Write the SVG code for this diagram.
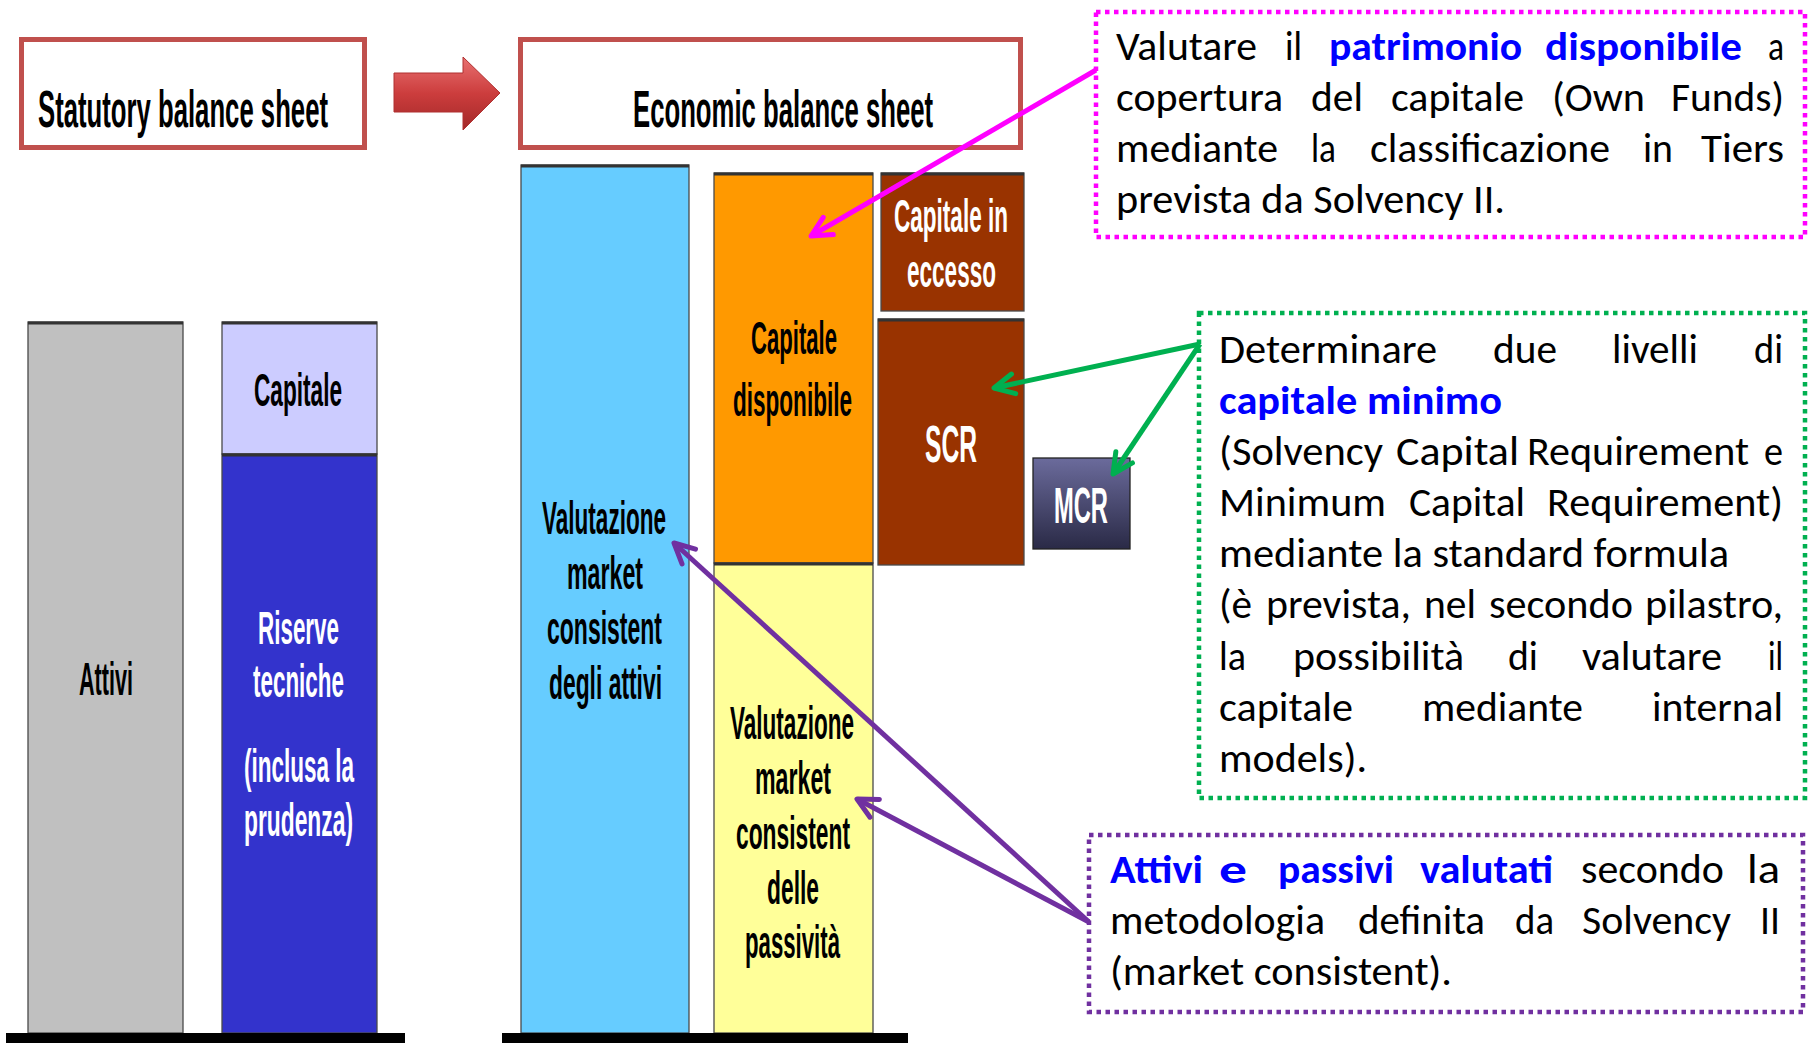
<svg xmlns="http://www.w3.org/2000/svg" width="1809" height="1044" viewBox="0 0 1809 1044">
<style>
.hdr{font-family:"Liberation Sans",Arial,sans-serif;font-weight:bold;font-size:52px;fill:#000}
.lbl{font-family:"Liberation Sans",Arial,sans-serif;font-weight:bold;font-size:46px;text-anchor:middle;fill:#000}
.w{fill:#fff}
.big{font-size:52px}
.bar{stroke:#4a4a4a;stroke-width:1.3}
.topedge{stroke:#333;stroke-width:3}
.cal{font-family:"Carlito","Lato",sans-serif;font-size:40px;fill:#000}
.em{font-weight:bold;fill:#0000FF}
.box{fill:none;stroke-width:4.5;stroke-dasharray:4.5 4.5}
.hbox{fill:#fff;stroke:#C0504D;stroke-width:5}
.con{fill:none;stroke-width:5}
</style>
<defs>
<linearGradient id="redg" x1="0" y1="0" x2="0" y2="1">
<stop offset="0" stop-color="#E87070"/>
<stop offset="0.5" stop-color="#CC3D3D"/>
<stop offset="1" stop-color="#A32828"/>
</linearGradient>
<linearGradient id="mcrg" x1="0" y1="0" x2="0" y2="1">
<stop offset="0" stop-color="#6B6B9C"/>
<stop offset="1" stop-color="#2A2A46"/>
</linearGradient>
<marker id="amag" markerUnits="userSpaceOnUse" markerWidth="40" markerHeight="40" viewBox="-30 -20 40 40" refX="0" refY="0" orient="auto" overflow="visible">
<path d="M-20,-10 L0,0 L-20,10" fill="none" stroke="#FF00FF" stroke-width="5" stroke-linecap="round" stroke-linejoin="round"/>
</marker>
<marker id="agrn" markerUnits="userSpaceOnUse" markerWidth="40" markerHeight="40" viewBox="-30 -20 40 40" refX="0" refY="0" orient="auto" overflow="visible">
<path d="M-20,-10 L0,0 L-20,10" fill="none" stroke="#00B050" stroke-width="5" stroke-linecap="round" stroke-linejoin="round"/>
</marker>
<marker id="apur" markerUnits="userSpaceOnUse" markerWidth="40" markerHeight="40" viewBox="-30 -20 40 40" refX="0" refY="0" orient="auto" overflow="visible">
<path d="M-20,-10 L0,0 L-20,10" fill="none" stroke="#7030A0" stroke-width="5" stroke-linecap="round" stroke-linejoin="round"/>
</marker>
</defs>
<rect width="1809" height="1044" fill="#fff"/>

<g id="statutory-header">
<rect class="hbox" x="21.5" y="39.5" width="343" height="108"/>
<text class="hdr" transform="translate(38,127) scale(0.4944,1)" x="0" y="0" textLength="586.6" lengthAdjust="spacingAndGlyphs">Statutory balance sheet</text>
</g>
<g id="transition-arrow">
<polygon points="394,73 463,73 463,57 500,93 463,130 463,112 394,112" fill="url(#redg)" stroke="#B03030" stroke-width="1"/>
</g>
<g id="economic-header">
<rect class="hbox" x="520.5" y="39.5" width="500" height="108"/>
<text class="hdr" transform="translate(633,127) scale(0.4943,1)" x="0" y="0" textLength="607" lengthAdjust="spacingAndGlyphs">Economic balance sheet</text>
</g>

<g id="attivi">
<rect class="bar" x="28" y="322" width="155" height="711" fill="#C0C0C0"/>
<line class="topedge" x1="28" y1="323" x2="183" y2="323"/>
<text class="lbl" x="106" y="695" textLength="54" lengthAdjust="spacingAndGlyphs">Attivi</text>
</g>
<g id="capitale">
<rect class="bar" x="222" y="322" width="155" height="132" fill="#CCCCFF"/>
<line class="topedge" x1="222" y1="323" x2="377" y2="323"/>
<text class="lbl" x="298" y="406" textLength="88" lengthAdjust="spacingAndGlyphs">Capitale</text>
</g>
<g id="riserve">
<rect class="bar" x="222" y="454" width="155" height="579" fill="#3333CC"/>
<line class="topedge" x1="222" y1="455" x2="377" y2="455"/>
<text class="lbl w" x="298.5" y="644" textLength="81" lengthAdjust="spacingAndGlyphs">Riserve</text>
<text class="lbl w" x="298.5" y="697" textLength="91" lengthAdjust="spacingAndGlyphs">tecniche</text>
<text class="lbl w" x="299" y="782" textLength="110" lengthAdjust="spacingAndGlyphs">(inclusa la</text>
<text class="lbl w" x="298.5" y="836" textLength="109" lengthAdjust="spacingAndGlyphs">prudenza)</text>
</g>
<g id="ground-left"><rect x="6" y="1033" width="399" height="10" fill="#000"/></g>

<g id="attivi-mc">
<rect class="bar" x="521" y="165" width="168" height="868" fill="#66CCFF"/>
<line class="topedge" x1="521" y1="166" x2="689" y2="166"/>
<text class="lbl" x="604" y="534" textLength="124" lengthAdjust="spacingAndGlyphs">Valutazione</text>
<text class="lbl" x="605" y="589" textLength="76" lengthAdjust="spacingAndGlyphs">market</text>
<text class="lbl" x="604.5" y="644" textLength="115" lengthAdjust="spacingAndGlyphs">consistent</text>
<text class="lbl" x="605.5" y="699" textLength="113" lengthAdjust="spacingAndGlyphs">degli attivi</text>
</g>
<g id="capitale-disponibile">
<rect class="bar" x="714" y="173" width="159" height="390" fill="#FF9900"/>
<line class="topedge" x1="714" y1="174" x2="873" y2="174"/>
<text class="lbl" x="794" y="354" textLength="86" lengthAdjust="spacingAndGlyphs">Capitale</text>
<text class="lbl" x="792.5" y="416" textLength="119" lengthAdjust="spacingAndGlyphs">disponibile</text>
</g>
<g id="passivita-mc">
<rect class="bar" x="714" y="563" width="159" height="470" fill="#FFFF99"/>
<line class="topedge" x1="714" y1="564" x2="873" y2="564"/>
<text class="lbl" x="792" y="739" textLength="124" lengthAdjust="spacingAndGlyphs">Valutazione</text>
<text class="lbl" x="793" y="794" textLength="76" lengthAdjust="spacingAndGlyphs">market</text>
<text class="lbl" x="793" y="849" textLength="114" lengthAdjust="spacingAndGlyphs">consistent</text>
<text class="lbl" x="793" y="904" textLength="52" lengthAdjust="spacingAndGlyphs">delle</text>
<text class="lbl" x="792.5" y="958" textLength="95" lengthAdjust="spacingAndGlyphs">passività</text>
</g>
<g id="capitale-eccesso">
<rect class="bar" x="881" y="173" width="143" height="138" fill="#993300"/>
<line class="topedge" x1="881" y1="174" x2="1024" y2="174"/>
<text class="lbl w" x="951" y="232" textLength="114" lengthAdjust="spacingAndGlyphs">Capitale in</text>
<text class="lbl w" x="951.5" y="287" textLength="89" lengthAdjust="spacingAndGlyphs">eccesso</text>
</g>
<g id="scr">
<rect class="bar" x="878" y="319" width="146" height="246" fill="#993300"/>
<line class="topedge" x1="878" y1="320" x2="1024" y2="320"/>
<text class="lbl w big" x="951" y="462" textLength="52" lengthAdjust="spacingAndGlyphs">SCR</text>
</g>
<g id="mcr">
<rect x="1033" y="458" width="97" height="91" fill="url(#mcrg)" stroke="#222" stroke-width="1.3"/>
<text class="lbl w" x="1081" y="523" style="font-size:50px" textLength="54" lengthAdjust="spacingAndGlyphs">MCR</text>
</g>
<g id="ground-right"><rect x="502" y="1033" width="406" height="10" fill="#000"/></g>

<g id="note-own-funds">
<rect class="box" x="1096" y="12" width="709" height="225" stroke="#FF00FF"/>
<text class="cal" x="1116" y="60" textLength="141" lengthAdjust="spacingAndGlyphs">Valutare</text>
<text class="cal" x="1285" y="60" textLength="17" lengthAdjust="spacingAndGlyphs">il</text>
<text class="cal em" x="1329" y="60" textLength="193" lengthAdjust="spacingAndGlyphs">patrimonio</text>
<text class="cal em" x="1545" y="60" textLength="197" lengthAdjust="spacingAndGlyphs">disponibile</text>
<text class="cal" x="1768" y="60" textLength="16" lengthAdjust="spacingAndGlyphs">a</text>
<text class="cal" x="1116" y="111" textLength="167" lengthAdjust="spacingAndGlyphs">copertura</text>
<text class="cal" x="1311" y="111" textLength="52" lengthAdjust="spacingAndGlyphs">del</text>
<text class="cal" x="1391" y="111" textLength="133" lengthAdjust="spacingAndGlyphs">capitale</text>
<text class="cal" x="1552" y="111" textLength="93" lengthAdjust="spacingAndGlyphs">(Own</text>
<text class="cal" x="1671" y="111" textLength="113" lengthAdjust="spacingAndGlyphs">Funds)</text>
<text class="cal" x="1116" y="162" textLength="162" lengthAdjust="spacingAndGlyphs">mediante</text>
<text class="cal" x="1311" y="162" textLength="25" lengthAdjust="spacingAndGlyphs">la</text>
<text class="cal" x="1370" y="162" textLength="240" lengthAdjust="spacingAndGlyphs">classificazione</text>
<text class="cal" x="1643" y="162" textLength="30" lengthAdjust="spacingAndGlyphs">in</text>
<text class="cal" x="1701" y="162" textLength="83" lengthAdjust="spacingAndGlyphs">Tiers</text>
<text class="cal" x="1116" y="213" textLength="389" lengthAdjust="spacingAndGlyphs">prevista da Solvency II.</text>
</g>

<g id="note-capitale-minimo">
<rect class="box" x="1199" y="313" width="606" height="485" stroke="#00B050"/>
<text class="cal" x="1219" y="363" textLength="218" lengthAdjust="spacingAndGlyphs">Determinare</text>
<text class="cal" x="1493" y="363" textLength="64" lengthAdjust="spacingAndGlyphs">due</text>
<text class="cal" x="1612" y="363" textLength="86" lengthAdjust="spacingAndGlyphs">livelli</text>
<text class="cal" x="1754" y="363" textLength="29" lengthAdjust="spacingAndGlyphs">di</text>
<text class="cal em" x="1219" y="414" textLength="283" lengthAdjust="spacingAndGlyphs">capitale minimo</text>
<text class="cal" x="1219" y="465" textLength="164" lengthAdjust="spacingAndGlyphs">(Solvency</text>
<text class="cal" x="1396" y="465" textLength="123" lengthAdjust="spacingAndGlyphs">Capital</text>
<text class="cal" x="1527" y="465" textLength="222" lengthAdjust="spacingAndGlyphs">Requirement</text>
<text class="cal" x="1764" y="465" textLength="19" lengthAdjust="spacingAndGlyphs">e</text>
<text class="cal" x="1219" y="516" textLength="167" lengthAdjust="spacingAndGlyphs">Minimum</text>
<text class="cal" x="1409" y="516" textLength="116" lengthAdjust="spacingAndGlyphs">Capital</text>
<text class="cal" x="1547" y="516" textLength="236" lengthAdjust="spacingAndGlyphs">Requirement)</text>
<text class="cal" x="1219" y="567" textLength="510" lengthAdjust="spacingAndGlyphs">mediante la standard formula</text>
<text class="cal" x="1219" y="618" textLength="33" lengthAdjust="spacingAndGlyphs">(è</text>
<text class="cal" x="1266" y="618" textLength="145" lengthAdjust="spacingAndGlyphs">prevista,</text>
<text class="cal" x="1424" y="618" textLength="52" lengthAdjust="spacingAndGlyphs">nel</text>
<text class="cal" x="1489" y="618" textLength="144" lengthAdjust="spacingAndGlyphs">secondo</text>
<text class="cal" x="1645" y="618" textLength="138" lengthAdjust="spacingAndGlyphs">pilastro,</text>
<text class="cal" x="1219" y="670" textLength="27" lengthAdjust="spacingAndGlyphs">la</text>
<text class="cal" x="1293" y="670" textLength="171" lengthAdjust="spacingAndGlyphs">possibilità</text>
<text class="cal" x="1508" y="670" textLength="30" lengthAdjust="spacingAndGlyphs">di</text>
<text class="cal" x="1582" y="670" textLength="140" lengthAdjust="spacingAndGlyphs">valutare</text>
<text class="cal" x="1768" y="670" textLength="15" lengthAdjust="spacingAndGlyphs">il</text>
<text class="cal" x="1219" y="721" textLength="134" lengthAdjust="spacingAndGlyphs">capitale</text>
<text class="cal" x="1422" y="721" textLength="161" lengthAdjust="spacingAndGlyphs">mediante</text>
<text class="cal" x="1652" y="721" textLength="131" lengthAdjust="spacingAndGlyphs">internal</text>
<text class="cal" x="1219" y="772" textLength="148" lengthAdjust="spacingAndGlyphs">models).</text>
</g>

<g id="note-market-consistent">
<rect class="box" x="1089" y="835" width="714" height="177" stroke="#7030A0"/>
<text class="cal em" x="1110" y="883" textLength="93" lengthAdjust="spacingAndGlyphs">Attivi</text>
<text class="cal em" x="1219" y="883" textLength="28" lengthAdjust="spacingAndGlyphs">e</text>
<text class="cal em" x="1278" y="883" textLength="116" lengthAdjust="spacingAndGlyphs">passivi</text>
<text class="cal em" x="1420" y="883" textLength="133" lengthAdjust="spacingAndGlyphs">valutati</text>
<text class="cal" x="1581" y="883" textLength="143" lengthAdjust="spacingAndGlyphs">secondo</text>
<text class="cal" x="1747" y="883" textLength="33" lengthAdjust="spacingAndGlyphs">la</text>
<text class="cal" x="1110" y="934" textLength="215" lengthAdjust="spacingAndGlyphs">metodologia</text>
<text class="cal" x="1358" y="934" textLength="127" lengthAdjust="spacingAndGlyphs">definita</text>
<text class="cal" x="1515" y="934" textLength="39" lengthAdjust="spacingAndGlyphs">da</text>
<text class="cal" x="1582" y="934" textLength="149" lengthAdjust="spacingAndGlyphs">Solvency</text>
<text class="cal" x="1760" y="934" textLength="20" lengthAdjust="spacingAndGlyphs">II</text>
<text class="cal" x="1110" y="985" textLength="342" lengthAdjust="spacingAndGlyphs">(market consistent).</text>
</g>

<g id="connectors">
<line class="con" x1="1096" y1="70" x2="811" y2="236" stroke="#FF00FF" marker-end="url(#amag)"/>
<line class="con" x1="1200" y1="344" x2="994" y2="388" stroke="#00B050" marker-end="url(#agrn)"/>
<line class="con" x1="1200" y1="344" x2="1113" y2="474" stroke="#00B050" marker-end="url(#agrn)"/>
<line class="con" x1="1089" y1="922" x2="674" y2="543" stroke="#7030A0" marker-end="url(#apur)"/>
<line class="con" x1="1089" y1="922" x2="857" y2="799" stroke="#7030A0" marker-end="url(#apur)"/>
</g>
</svg>
